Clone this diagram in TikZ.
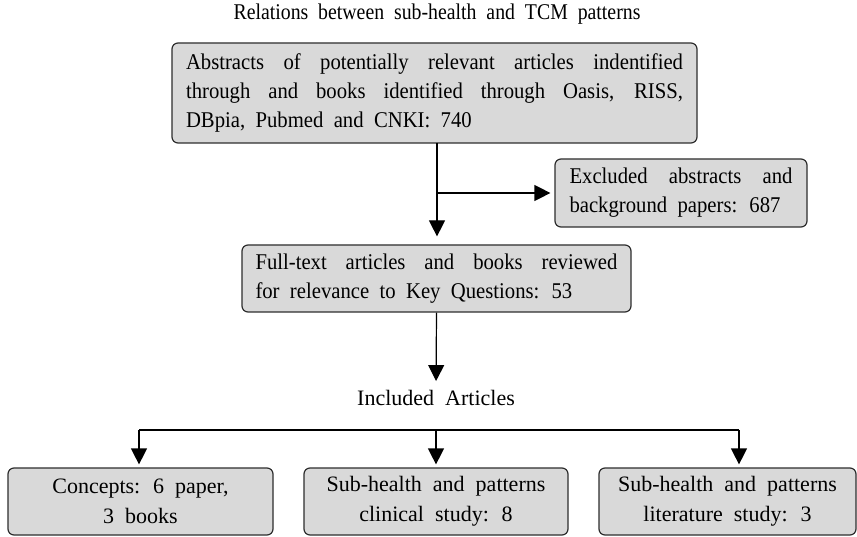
\documentclass[tikz,border=0pt]{standalone}
\usepackage{fontspec}
\setmainfont{Liberation Serif}[FakeStretch=0.92, WordSpace=2]
\newfontfamily\titlefont{Liberation Serif}[FakeStretch=0.88, WordSpace=2]
\newfontfamily\widefont{Liberation Serif}[WordSpace=2]
\usetikzlibrary{arrows.meta}
\definecolor{boxfill}{RGB}{217,217,217}
\definecolor{boxline}{RGB}{45,45,45}
\begin{document}
\begin{tikzpicture}[x=1pt,y=-1pt,
  box/.style={draw=boxline, fill=boxfill, line width=1.2pt, rounded corners=6pt, inner sep=0pt},
  jbox/.style={box, align=justify},
  cbox/.style={box, align=center, font=\widefont\fontsize{22}{30}\selectfont},
  conn/.style={line width=1.2pt, draw=black},
  arr/.style={conn, -{Triangle[length=16pt,width=16pt]}},
  font=\fontsize{22.5}{29}\selectfont]
\useasboundingbox (0,0) rectangle (857,537);
\node[font=\titlefont\fontsize{22.5}{29}\selectfont] (title) at (437,14) {Relations between sub-health and TCM patterns};
\node[jbox, minimum width=525pt, minimum height=100pt, text width=497pt] (abs) at (434.5,93)
  {Abstracts of potentially relevant articles indentified\linebreak through and books identified through Oasis, RISS,\linebreak DBpia, Pubmed and CNKI: 740};
\node[jbox, minimum width=252pt, minimum height=68pt, text width=223pt] (excl) at (681,193)
  {Excluded abstracts and\linebreak background papers: 687};
\node[jbox, minimum width=389pt, minimum height=67pt, text width=362pt] (full) at (436.5,278.5)
  {Full-text articles and books reviewed\linebreak for relevance to Key Questions: 53};
\node[inner sep=0pt, font=\widefont\fontsize{22}{30}\selectfont] (inc) at (436,398) {Included Articles};
\node[cbox, minimum width=265pt, minimum height=67pt] (ca) at (140.5,501.5) {Concepts: 6 paper,\\3 books};
\node[cbox, minimum width=264pt, minimum height=67pt] (cb) at (436,501.5) {Sub-health and patterns\\clinical study: 8};
\node[cbox, minimum width=257pt, minimum height=67pt] (cc) at (727.5,501.5) {Sub-health and patterns\\literature study: 3};
\coordinate (top) at (437,143);
\coordinate (ha) at (139,430);
\coordinate (hb) at (436,430);
\coordinate (hc) at (739,430);
\draw[arr, shorten >=8pt] (top) -- (top |- full.north);
\draw[arr, shorten >=4pt] (top |- excl.west) -- (excl.west);
\draw[arr, shorten >=9pt] (full.south) -- (inc.north);
\draw[conn] (ha) -- (hc);
\draw[arr, shorten >=3pt] (ha) -- (ha |- ca.north);
\draw[arr, shorten >=3pt] (hb) -- (hb |- cb.north);
\draw[arr, shorten >=3pt] (hc) -- (hc |- cc.north);
\end{tikzpicture}
\end{document}
